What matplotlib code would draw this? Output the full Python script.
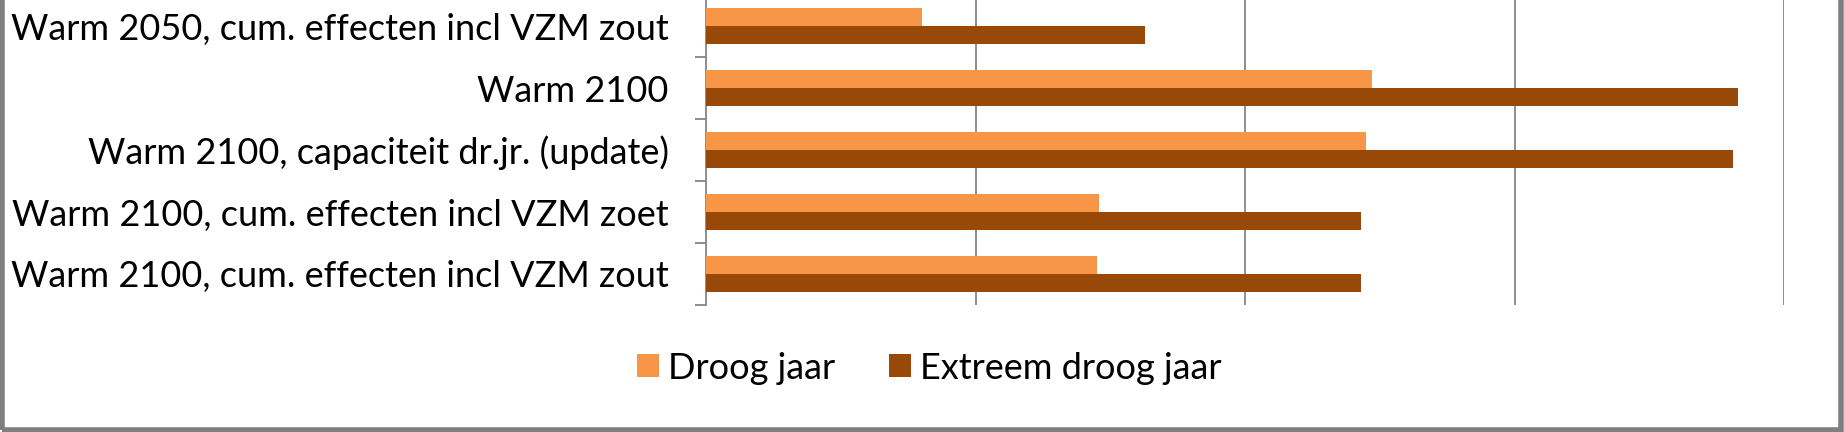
import matplotlib
matplotlib.use("Agg")
import matplotlib.pyplot as plt
import numpy as np

# categories from top to bottom as in the chart
categories = [
    "Warm 2050, cum. effecten incl VZM zout",
    "Warm 2100",
    "Warm 2100, capaciteit dr.jr. (update)",
    "Warm 2100, cum. effecten incl VZM zoet",
    "Warm 2100, cum. effecten incl VZM zout",
]
droog = [0.80, 2.47, 2.45, 1.46, 1.45]
extreem = [1.63, 3.83, 3.81, 2.43, 2.43]
series_names = ["Droog jaar", "Extreem droog jaar"]

c_droog = "#F79646"
c_extreem = "#984807"
grey = "#868686"
font = ["Lato", "DejaVu Sans"]

W, H = 1844, 432
fig = plt.figure(figsize=(W / 100, H / 100), dpi=100)

# axes: top runs off the picture, like the cropped original
ax_l, ax_r, ax_b = 706 / W, 1784 / W, (H - 305) / H
ax_h = (5 * 62) / H
ax = fig.add_axes([ax_l, ax_b, ax_r - ax_l, ax_h])

n = len(categories)
y = np.arange(n)[::-1]
bh = 0.283
ax.barh(y + bh / 2, droog, height=bh, color=c_droog, label=series_names[0], zorder=3)
ax.barh(y - bh / 2, extreem, height=bh, color=c_extreem, label=series_names[1], zorder=3)

ax.set_xlim(0, 4)
ax.set_ylim(-0.5, n - 0.5)
ax.set_xticks([1, 2, 3, 4])
ax.xaxis.grid(True, color=grey, linewidth=1.3, zorder=0)
ax.tick_params(axis="x", length=0, labelbottom=False)

# fit the label size so the longest label is as wide as in the original
probe = fig.text(0, 0, categories[3], family=font, fontsize=24)
fig.canvas.draw()
w = probe.get_window_extent().width
probe.remove()
fs = 24 * 658 / w

ax.set_yticks(y)
ax.set_yticklabels(categories, family=font, fontsize=fs)
ax.set_yticks(np.arange(-0.5, n, 1.0), minor=True)
ax.tick_params(axis="y", which="major", length=0, pad=27)
ax.tick_params(axis="y", which="minor", length=8, width=1.3, color=grey)

for s in ["top", "right", "bottom"]:
    ax.spines[s].set_visible(False)
ax.spines["left"].set_color(grey)
ax.spines["left"].set_linewidth(1.3)

fig.legend(loc="center", bbox_to_anchor=(0.504, 0.148), ncol=2, frameon=False,
           prop={"family": font, "size": fs}, handlelength=0.6, handleheight=0.6,
           handletextpad=0.25, columnspacing=1.5)

# outer grey frame
frame = plt.Rectangle((0.001, 0.004), 0.9975, 1.2, transform=fig.transFigure,
                      fill=False, edgecolor="#7f7f7f", linewidth=4, clip_on=False)
fig.add_artist(frame)

fig.savefig("out.png", dpi=100)
